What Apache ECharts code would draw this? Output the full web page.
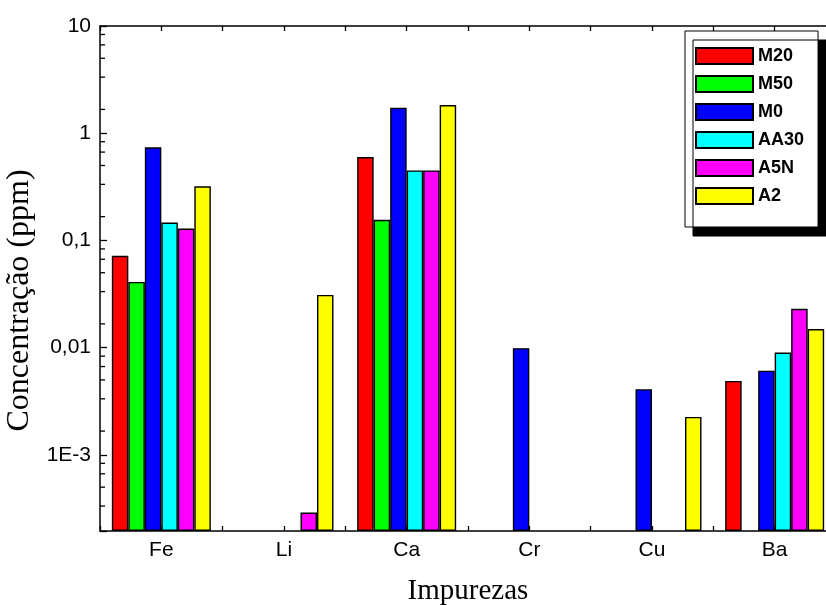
<!DOCTYPE html>
<html>
<head>
<meta charset="utf-8">
<script src="https://cdn.jsdelivr.net/npm/echarts@6/dist/echarts.min.js"></script>
<style>
  html, body { margin: 0; padding: 0; background: #ffffff; }
  #chart { width: 826px; height: 605px; }
</style>
</head>
<body>
<div id="chart"></div>
<script>
// Impurity concentrations (ppm) per element, one series per sample
const categories = ['Fe', 'Li', 'Ca', 'Cr', 'Cu', 'Ba'];
const seriesNames = ['M20', 'M50', 'M0', 'AA30', 'A5N', 'A2'];
const seriesColors = ['#ff0000', '#00ff00', '#0000ff', '#00ffff', '#ff00ff', '#ffff00'];

const valuesM20  = [0.072, null,    0.60,  null,   null,    0.0049];
const valuesM50  = [0.041, null,    0.156, null,   null,    null];
const valuesM0   = [0.74,  null,    1.73,  0.0099, 0.0041,  0.0061];
const valuesAA30 = [0.147, null,    0.45,  null,   null,    0.0090];
const valuesA5N  = [0.129, 0.00029, 0.45,  null,   null,    0.023];
const valuesA2   = [0.32,  0.031,   1.83,  null,   0.00226, 0.0149];

const seriesValues = [valuesM20, valuesM50, valuesM0, valuesAA30, valuesA5N, valuesA2];

// Y axis: decade labels and the in-between minor tick values
const yMin = 1.95e-4;
const yMax = 10;
const yTickValues = [10, 1, 0.1, 0.01, 0.001];
const yTickLabels = ['10', '1', '0,1', '0,01', '1E-3'];
const yMinorTicks = [
  3.333e-4, 5e-4, 6.667e-4, 8.333e-4,
  1.667e-3, 3.333e-3, 5e-3, 6.667e-3, 8.333e-3,
  1.667e-2, 3.333e-2, 5e-2, 6.667e-2, 8.333e-2,
  0.1667, 0.3333, 0.5, 0.6667, 0.8333,
  1.667, 3.333, 5, 6.667, 8.333
];

const chart = echarts.init(document.getElementById('chart'), null, { renderer: 'canvas' });

const black = '#000000';
const sansFont = '"Liberation Sans", Arial, sans-serif';
const serifFont = '"Liberation Serif", "Times New Roman", serif';

function yLabel(v) {
  for (let i = 0; i < yTickValues.length; i++) {
    if (Math.abs(Math.log10(v) - Math.log10(yTickValues[i])) < 1e-6) return yTickLabels[i];
  }
  return '';
}

const barSeries = seriesNames.map((name, i) => ({
  name: name,
  type: 'bar',
  xAxisIndex: 0,
  yAxisIndex: 0,
  data: seriesValues[i],
  barWidth: 16.5,
  barGap: '0%',
  itemStyle: { color: seriesColors[i], borderColor: black, borderWidth: 1.4 },
  emphasis: { disabled: true },
  animation: false
}));

// short inward minor ticks on the left axis, placed through the y scale
const minorTickSeries = {
  type: 'custom',
  xAxisIndex: 0,
  yAxisIndex: 0,
  silent: true,
  animation: false,
  z: 5,
  data: yMinorTicks.map(v => [0, v]),
  renderItem: function (params, api) {
    const y = api.coord([0, api.value(1)])[1];
    const x0 = params.coordSys.x;
    return {
      type: 'line',
      shape: { x1: x0, y1: y, x2: x0 + 5, y2: y },
      style: { stroke: black, lineWidth: 1.3 }
    };
  }
};

const option = {
  backgroundColor: '#ffffff',
  animation: false,
  grid: { left: 100, top: 26, right: -10, bottom: 74, containLabel: false, outerBoundsMode: 'none' },
  legend: {
    data: seriesNames,
    orient: 'vertical',
    left: 685,
    top: 31,
    itemWidth: 57,
    itemHeight: 16,
    itemGap: 10,
    padding: [16, 14, 22, 10],
    backgroundColor: '#ffffff',
    borderColor: black,
    borderWidth: 1,
    shadowColor: black,
    shadowBlur: 0,
    shadowOffsetX: 8,
    shadowOffsetY: 9,
    icon: 'rect',
    selectedMode: false,
    textStyle: { fontFamily: sansFont, fontWeight: 'bold', fontSize: 18, color: black }
  },
  xAxis: [
    {
      type: 'category',
      position: 'bottom',
      data: categories,
      name: 'Impurezas',
      nameLocation: 'middle',
      nameGap: 46,
      nameTextStyle: { fontFamily: serifFont, fontSize: 29, color: black },
      axisLine: { show: true, lineStyle: { color: black, width: 1.5 } },
      axisTick: { show: true, inside: true, length: 5, alignWithLabel: true, interval: 0, lineStyle: { color: black, width: 1.3 } },
      axisLabel: { show: true, margin: 9, fontFamily: sansFont, fontSize: 21, color: black, interval: 0 },
      splitLine: { show: false }
    },
    {
      type: 'category',
      position: 'top',
      data: categories,
      axisLine: { show: true, lineStyle: { color: black, width: 1.5 } },
      axisTick: { show: true, inside: true, length: 5, alignWithLabel: true, interval: 0, lineStyle: { color: black, width: 1.3 } },
      axisLabel: { show: false },
      splitLine: { show: false }
    },
    {
      type: 'category',
      position: 'bottom',
      data: categories,
      axisLine: { show: false },
      axisTick: { show: true, inside: true, length: 5, interval: 0, lineStyle: { color: black, width: 1.3 } },
      axisLabel: { show: false },
      splitLine: { show: false }
    },
    {
      type: 'category',
      position: 'top',
      data: categories,
      axisLine: { show: false },
      axisTick: { show: true, inside: true, length: 5, interval: 0, lineStyle: { color: black, width: 1.3 } },
      axisLabel: { show: false },
      splitLine: { show: false }
    }
  ],
  yAxis: [
    {
      type: 'log',
      logBase: 10,
      min: yMin,
      max: yMax,
      startValue: yMin,
      name: 'Concentração (ppm)',
      nameLocation: 'middle',
      nameGap: 43,
      nameTextStyle: { fontFamily: serifFont, fontSize: 32, color: black, padding: [0, 44, 0, 0] },
      axisLine: { show: true, lineStyle: { color: black, width: 1.5 } },
      axisTick: { show: true, inside: true, length: 7, lineStyle: { color: black, width: 1.3 } },
      axisLabel: { show: true, margin: 9, fontFamily: sansFont, fontSize: 21, color: black, formatter: yLabel },
      splitLine: { show: false },
      minorTick: { show: false }
    }
  ],
  series: barSeries.concat([minorTickSeries])
};

chart.setOption(option);
</script>
</body>
</html>
